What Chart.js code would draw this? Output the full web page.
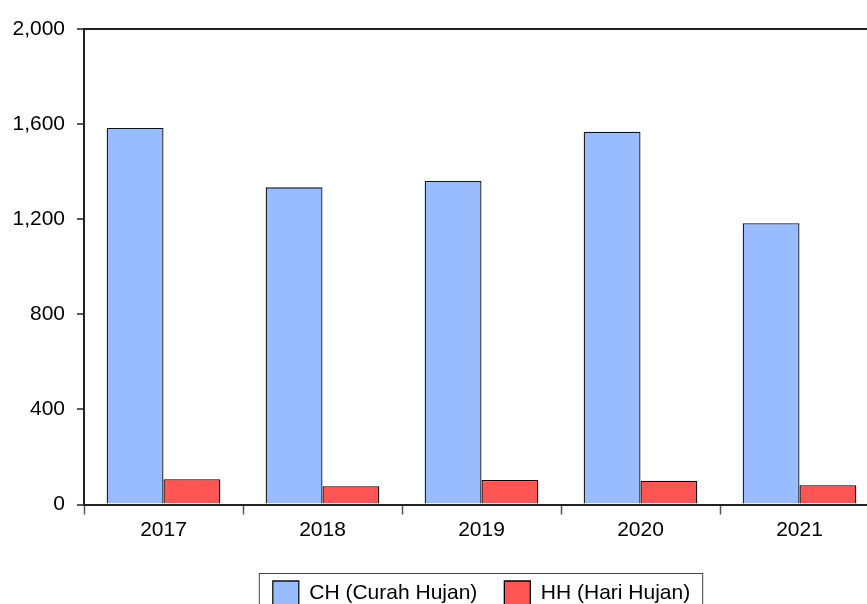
<!DOCTYPE html>
<html>
<head>
<meta charset="utf-8">
<script src="https://cdn.jsdelivr.net/npm/chart.js@4"></script>
<style>
  html, body { margin: 0; padding: 0; background: #fff; overflow: hidden; }
  #wrap { width: 867px; height: 604px; overflow: hidden; }
</style>
</head>
<body>
<div id="wrap"><canvas id="canvas" width="963" height="620"></canvas></div>
<script>
/* data */
const years = ['2017', '2018', '2019', '2020', '2021'];
const curahHujan = [1584, 1334, 1361, 1568, 1183];
const hariHujan = [106, 77, 103, 100, 81];
const yTicks = [0, 400, 800, 1200, 1600, 2000];

const fnt = { family: 'Liberation Sans, Arial', size: 21 };

/* frame round the legend, like the original */
const legendBox = {
  id: 'legendBox',
  afterDraw(chart) {
    const boxes = chart.legend.legendHitBoxes;
    if (!boxes || !boxes.length) return;
    const first = boxes[0], last = boxes[boxes.length - 1];
    const c = chart.ctx;
    c.save();
    c.strokeStyle = '#444';
    c.lineWidth = 1;
    const x1 = first.left - 13.5, x2 = last.left + last.width + 12.5;
    const y1 = first.top - 7.5;
    c.strokeRect(x1, y1, x2 - x1, 80);
    c.restore();
  }
};

const ctx = document.getElementById('canvas');
new Chart(ctx, {
  type: 'bar',
  data: {
    labels: years,
    datasets: [
      {
        label: 'CH (Curah Hujan)',
        data: curahHujan,
        backgroundColor: '#99BBFF',
        borderColor: '#111',
        borderWidth: 1.3
      },
      {
        label: 'HH (Hari Hujan)',
        data: hariHujan,
        backgroundColor: '#FF5555',
        borderColor: '#000',
        borderWidth: 1.3
      }
    ]
  },
  options: {
    responsive: false,
    animation: false,
    devicePixelRatio: 1,
    layout: { padding: { top: 29, right: 0, bottom: 5, left: 0 } },
    datasets: {
      bar: { categoryPercentage: 0.715, barPercentage: 1.0 }
    },
    plugins: {
      tooltip: { enabled: false },
      legend: {
        position: 'bottom',
        labels: {
          color: '#000',
          font: fnt,
          boxWidth: 26,
          boxHeight: 24,
          padding: 27
        }
      }
    },
    scales: {
      x: {
        offset: true,
        grid: {
          offset: true,
          drawOnChartArea: false,
          drawTicks: true,
          tickLength: 10,
          tickColor: '#555',
          tickWidth: 1.5
        },
        border: { display: true, color: '#222', width: 2 },
        ticks: {
          color: '#000',
          padding: 3,
          font: fnt
        },
        afterFit(scale) { scale.height = 49.5; }
      },
      y: {
        min: 0,
        max: 2000,
        afterBuildTicks(scale) { scale.ticks = yTicks.map(v => ({ value: v })); },
        grid: {
          color: c => (c.tick && c.tick.value === 2000 ? '#222' : 'transparent'),
          lineWidth: 2,
          tickColor: '#222',
          tickWidth: 1.5,
          tickLength: 7
        },
        border: { display: true, color: '#222', width: 2 },
        ticks: {
          color: '#000',
          padding: 12,
          font: fnt,
          callback: v => v.toLocaleString('en-US')
        },
        afterFit(scale) { scale.width = 84; }
      },
      yRight: {
        position: 'right',
        min: 0,
        max: 2000,
        grid: { display: false },
        border: { display: true, color: '#222', width: 2 },
        ticks: { display: false },
        afterFit(scale) { scale.width = 84; }
      }
    }
  },
  plugins: [legendBox]
});
</script>
</body>
</html>
